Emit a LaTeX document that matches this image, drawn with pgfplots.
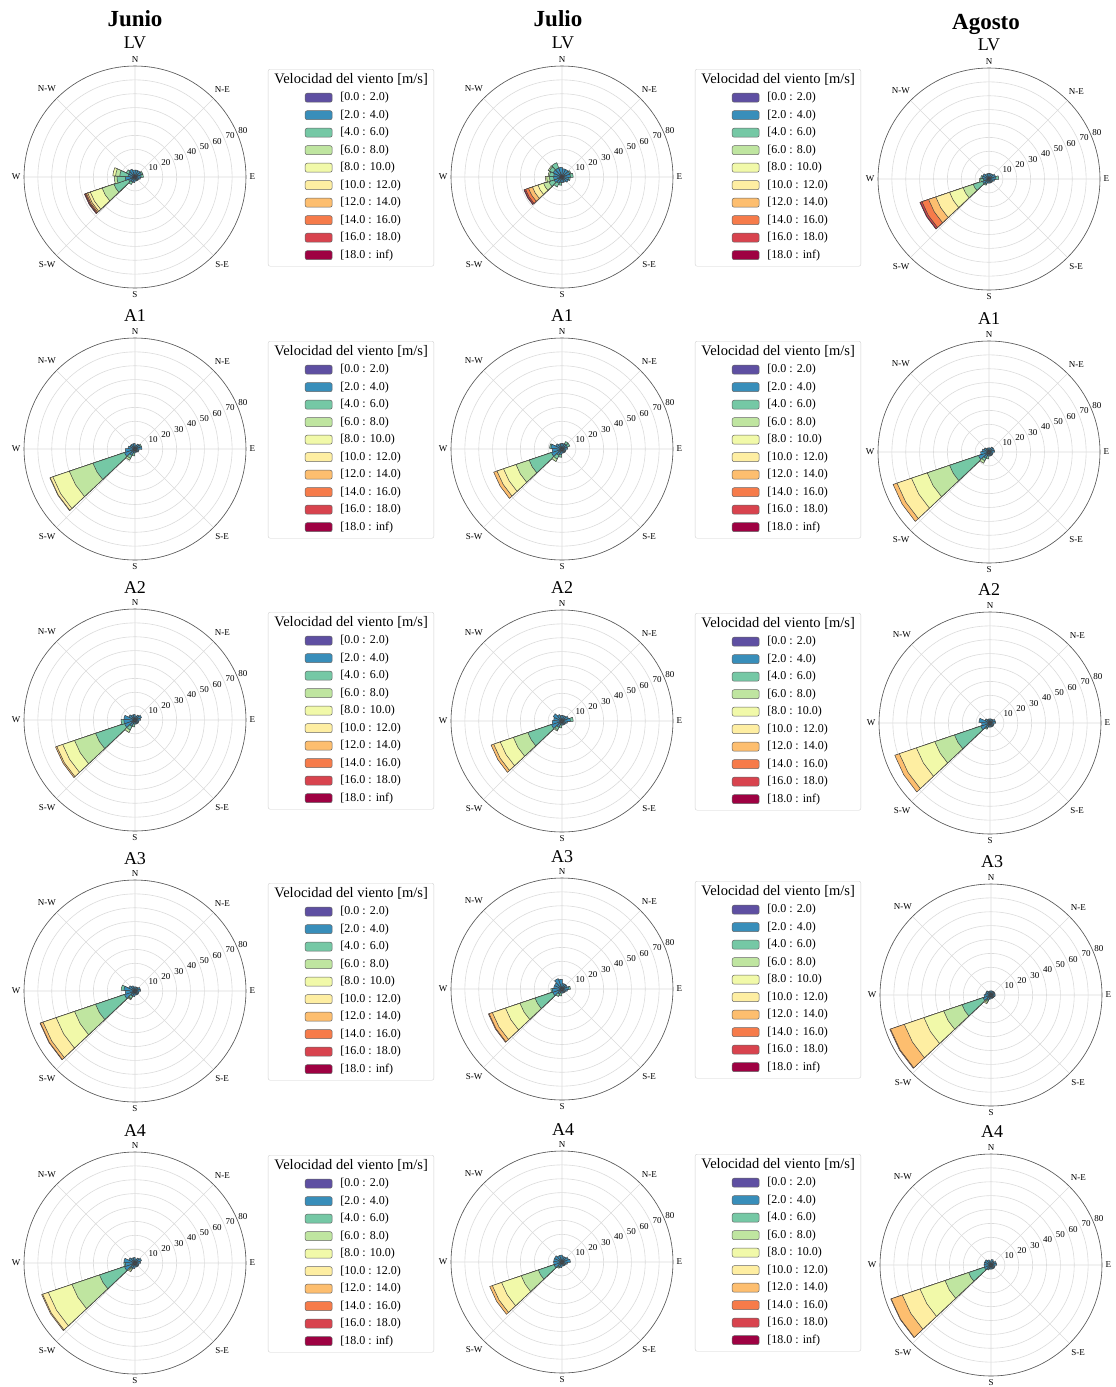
\documentclass[border=0pt]{standalone}
\usepackage{fontspec}
\setmainfont{Liberation Serif}
\usepackage{xfp}
\usepackage{pgfplots}
\pgfplotsset{compat=1.18}
\usepgfplotslibrary{polar}

\definecolor{wc1}{RGB}{94,79,162}
\definecolor{wc2}{RGB}{56,142,186}
\definecolor{wc3}{RGB}{117,200,165}
\definecolor{wc4}{RGB}{191,229,160}
\definecolor{wc5}{RGB}{241,249,169}
\definecolor{wc6}{RGB}{254,238,162}
\definecolor{wc7}{RGB}{253,190,111}
\definecolor{wc8}{RGB}{246,123,74}
\definecolor{wc9}{RGB}{216,67,78}
\definecolor{wc10}{RGB}{158,1,66}

\tikzset{rlab/.style={anchor=south west, inner sep=0.6pt, font=\fontsize{9}{9}\selectfont},
  barst/.style={draw=black!75, line width=0.5pt, line join=round}}

% #1 compass direction, #2 half width (deg), #3 bin/cumulative value, outermost first
\newcommand{\sect}[3]{%
  \foreach \bv/\rv in {#3}{%
    \edef\tmp{\noexpand\addplot[forget plot, barst, fill=wc\bv]
      coordinates {(\fpeval{90-(#1)},0) (\fpeval{90-(#1)+(#2)},\rv) (\fpeval{90-(#1)},\rv) (\fpeval{90-(#1)-(#2)},\rv) (\fpeval{90-(#1)},0)};}%
    \tmp}%
}
\newcommand{\major}[1]{\sect{239}{12.3}{#1}}
\newcommand{\minor}[2]{\sect{#1}{11}{#2}}

\newcommand{\rlabels}{\foreach \v in {10,20,...,80}{\edef\tmp{\noexpand\node[rlab] at (axis cs:22.5,\v) {\v};}\tmp}}

\newcommand{\legimg}[1]{\addlegendimage{legend image code/.code={\path[draw=none,fill=none] (0pt,-4.5pt) rectangle (58pt,4.5pt); \draw[fill=#1, draw=black!60, line width=0.5pt] (31pt,-4.5pt) rectangle (58pt,4.5pt);}}}
\newcommand{\roselegend}{%
  \addlegendimage{empty legend}\addlegendentry{\hspace*{-66pt}\fontsize{14.5}{14.5}\selectfont Velocidad del viento [m/s]}%
  \legimg{wc1}\addlegendentry{{[0.0 : 2.0)}}%
  \legimg{wc2}\addlegendentry{{[2.0 : 4.0)}}%
  \legimg{wc3}\addlegendentry{{[4.0 : 6.0)}}%
  \legimg{wc4}\addlegendentry{{[6.0 : 8.0)}}%
  \legimg{wc5}\addlegendentry{{[8.0 : 10.0)}}%
  \legimg{wc6}\addlegendentry{{[10.0 : 12.0)}}%
  \legimg{wc7}\addlegendentry{{[12.0 : 14.0)}}%
  \legimg{wc8}\addlegendentry{{[14.0 : 16.0)}}%
  \legimg{wc9}\addlegendentry{{[16.0 : 18.0)}}%
  \legimg{wc10}\addlegendentry{{[18.0 : inf)}}%
}

\pgfplotsset{
  rose/.style={
    width=222pt, height=222pt, scale only axis, anchor=center,
    xmin=0, xmax=360, ymin=0, ymax=80,
    xtick={0,45,...,315},
    xticklabels={E,N-E,N,N-W,W,S-W,S,S-E},
    ytick={10,20,...,80}, yticklabels={},
    grid=major, major grid style={draw=black!14, line width=0.6pt},
    axis line style={draw=black!65, line width=0.6pt},
    y axis line style={draw=none},
    major tick length=0pt,
    xticklabel style={font=\fontsize{9}{9}\selectfont, inner sep=3.5pt},
    clip=false,
  },
  roseleg/.style={
    legend cell align=left,
    legend style={at={(1.099,0.9865)}, anchor=north west, draw=black!18, rounded corners=2pt, fill=white,
      inner xsep=6pt, inner ysep=5pt, column sep=8pt, row sep=5.5pt,
      nodes={inner sep=0pt, text height=9pt, text depth=3pt},
      font=\fontsize{12}{12}\selectfont},
  },
}

\begin{document}
\begin{tikzpicture}[x=1pt,y=1pt]
\useasboundingbox (0,0) rectangle (1116,-1387);
\tikzset{mt/.style={font=\fontsize{23}{23}\selectfont\bfseries}, st/.style={font=\fontsize{18}{18}\selectfont}}
\node[mt] at (135,-19) {Junio};
\node[mt] at (558,-19) {Julio};
\node[mt] at (986,-24) {Agosto};
\node[st] at (135,-43) {LV};
\node[st] at (563,-43) {LV};
\node[st] at (989,-45) {LV};
\node[st] at (135,-316) {A1};
\node[st] at (562,-316) {A1};
\node[st] at (989,-319) {A1};
\node[st] at (135,-588) {A2};
\node[st] at (562,-588) {A2};
\node[st] at (989,-590) {A2};
\node[st] at (135,-859) {A3};
\node[st] at (562,-857) {A3};
\node[st] at (992,-862) {A3};
\node[st] at (135,-1131) {A4};
\node[st] at (563,-1130) {A4};
\node[st] at (992,-1132) {A4};

% ---------- Row 1: LV ----------
\begin{polaraxis}[rose, roseleg, at={(135pt,-177pt)}]
\major{10/38.5,9/38.2,8/37.7,7/37,6/36,5/34,4/25,3/16,2/5,1/1}
\minor{261.5}{4/15,3/13,2/7,1/1.5}
\minor{284}{5/16,4/14,3/11,2/5,1/1.5}
\minor{306.5}{3/7,2/5,1/1.5}
\minor{329}{2/6,1/1.5}
\minor{351.5}{2/5,1/1.5}
\minor{14}{2/5,1/1}
\minor{36.5}{2/5,1/1}
\minor{59}{3/6,2/5,1/1}
\minor{81.5}{3/6,2/4.5,1/1}
\minor{104}{2/4,1/1}
\minor{126.5}{2/3,1/1}
\minor{149}{2/3,1/1}
\minor{171.5}{2/3,1/1}
\minor{194}{2/4,1/1}
\minor{216.5}{3/6,2/4,1/1}
\rlabels
\roselegend
\end{polaraxis}

\begin{polaraxis}[rose, roseleg, at={(562pt,-177pt)}]
\major{10/29,9/28.6,8/27.7,7/25.5,6/22.5,5/18.3,4/14,3/10,2/6,1/1}
\minor{261.5}{5/12,4/11,3/9,2/6,1/1.5}
\minor{284}{4/10,3/9,2/6,1/1.5}
\minor{306.5}{4/11,3/10,2/7,1/1.5}
\minor{329}{3/11,2/7,1/1.5}
\minor{351.5}{2/7,1/1.5}
\minor{14}{2/6,1/1}
\minor{36.5}{2/6,1/1}
\minor{59}{3/7,2/6,1/1}
\minor{81.5}{3/8,2/6,1/1}
\minor{104}{3/6,2/5,1/1}
\minor{126.5}{2/5,1/1}
\minor{149}{2/4,1/1}
\minor{171.5}{2/4,1/1}
\minor{194}{3/6,2/4,1/1}
\minor{216.5}{3/8,2/5,1/1}
\rlabels
\roselegend
\end{polaraxis}

\begin{polaraxis}[rose, at={(989pt,-179pt)}]
\major{10/52.6,9/52.3,8/51,7/46,6/40.5,5/30,4/19.7,3/12,2/5,1/1}
\minor{261.5}{4/7,3/6,2/4,1/1}
\minor{284}{3/6,2/5,1/1}
\minor{306.5}{2/5,1/1}
\minor{329}{2/4,1/1}
\minor{351.5}{2/4,1/1}
\minor{14}{2/4,1/1}
\minor{36.5}{2/4,1/1}
\minor{59}{2/5,1/1}
\minor{81.5}{3/7,2/5,1/1}
\minor{104}{2/4,1/1}
\minor{126.5}{2/3}
\minor{149}{2/3}
\minor{171.5}{2/3}
\minor{194}{2/3}
\minor{216.5}{3/5,2/4,1/1}
\rlabels
\end{polaraxis}

% ---------- Row 2: A1 ----------
\begin{polaraxis}[rose, roseleg, at={(135pt,-449pt)}]
\major{7/64.8,6/64.5,5/62.5,4/50,3/32,2/8,1/1}
\minor{216.5}{4/9,3/7.5,2/5,1/1}
\minor{261.5}{2/7,1/1.5}
\minor{284}{2/5,1/1}
\minor{306.5}{2/4,1/1}
\minor{329}{2/4}
\minor{351.5}{2/4}
\minor{14}{2/3}
\minor{36.5}{2/4}
\minor{59}{3/5,2/4}
\minor{81.5}{2/5}
\minor{104}{2/3}
\minor{126.5}{2/3}
\minor{149}{2/2.5}
\minor{171.5}{2/2.5}
\minor{194}{3/5,2/3}
\rlabels
\roselegend
\end{polaraxis}

\begin{polaraxis}[rose, roseleg, at={(562pt,-449pt)}]
\major{7/52,6/49.5,5/44.5,4/35,3/25,2/8,1/1}
\minor{216.5}{4/10,3/8,2/5,1/1}
\minor{261.5}{2/7,1/1}
\minor{284}{3/9,2/8,1/1}
\minor{306.5}{2/5}
\minor{329}{2/4}
\minor{351.5}{2/4}
\minor{14}{2/4}
\minor{36.5}{3/6,2/4}
\minor{59}{3/6,2/4}
\minor{81.5}{2/4}
\minor{104}{2/3}
\minor{126.5}{2/3}
\minor{149}{2/3}
\minor{171.5}{2/3}
\minor{194}{3/6,2/4}
\rlabels
\roselegend
\end{polaraxis}

\begin{polaraxis}[rose, at={(989pt,-452pt)}]
\major{7/73,6/70,5/59,4/47,3/30,2/8,1/1}
\minor{216.5}{4/9,3/7,2/5,1/1}
\minor{261.5}{2/6,1/1}
\minor{284}{2/5}
\minor{306.5}{2/4}
\minor{329}{2/3}
\minor{351.5}{2/3}
\minor{14}{2/3}
\minor{36.5}{2/4}
\minor{59}{2/4}
\minor{81.5}{2/4}
\minor{104}{2/3}
\minor{126.5}{2/3}
\minor{149}{2/3}
\minor{171.5}{2/3}
\minor{194}{3/5,2/3}
\rlabels
\end{polaraxis}

% ---------- Row 3: A2 ----------
\begin{polaraxis}[rose, roseleg, at={(135pt,-720pt)}]
\major{7/60.5,6/59.5,5/55,4/46,3/30,2/8,1/1}
\minor{216.5}{4/10,3/8,2/5,1/1}
\minor{261.5}{3/10,2/8,1/1}
\minor{284}{2/8,1/1}
\minor{306.5}{2/5}
\minor{329}{2/4}
\minor{351.5}{2/4}
\minor{14}{2/3}
\minor{36.5}{2/4}
\minor{59}{2/5}
\minor{81.5}{2/4}
\minor{104}{2/3}
\minor{126.5}{2/3}
\minor{149}{2/3}
\minor{171.5}{2/3}
\minor{194}{3/5,2/3}
\rlabels
\roselegend
\end{polaraxis}

\begin{polaraxis}[rose, roseleg, at={(562pt,-721pt)}]
\major{7/54,6/52,5/47,4/37,3/26,2/8,1/1}
\minor{216.5}{4/8,3/7,2/5,1/1}
\minor{261.5}{2/7,1/1}
\minor{284}{2/6}
\minor{306.5}{2/7}
\minor{329}{2/5}
\minor{351.5}{2/4}
\minor{14}{2/4}
\minor{36.5}{2/4}
\minor{59}{2/5}
\minor{81.5}{3/8,2/6}
\minor{104}{2/4}
\minor{126.5}{2/3}
\minor{149}{2/3}
\minor{171.5}{2/3}
\minor{194}{3/5,2/3}
\rlabels
\roselegend
\end{polaraxis}

\begin{polaraxis}[rose, at={(990pt,-723pt)}]
\major{7/72.5,6/69,5/56,4/42,3/27,2/7,1/1}
\minor{216.5}{3/5,2/4,1/1}
\minor{261.5}{2/6,1/1}
\minor{284}{2/8,1/1}
\minor{306.5}{2/4}
\minor{329}{2/3}
\minor{351.5}{2/3}
\minor{14}{2/3}
\minor{36.5}{2/3}
\minor{59}{2/4}
\minor{81.5}{2/4}
\minor{104}{2/3}
\minor{126.5}{2/3}
\minor{149}{2/3}
\minor{171.5}{2/3}
\minor{194}{2/3}
\rlabels
\end{polaraxis}

% ---------- Row 4: A3 ----------
\begin{polaraxis}[rose, roseleg, at={(135pt,-991pt)}]
\major{8/72.3,7/72,6/70,5/60,4/46,3/30,2/8,1/1}
\minor{216.5}{5/7,4/6.5,3/6,2/4,1/1}
\minor{261.5}{2/7,1/1}
\minor{284}{3/10,2/8,1/1}
\minor{306.5}{2/5}
\minor{329}{2/4}
\minor{351.5}{2/3}
\minor{14}{2/3}
\minor{36.5}{2/3}
\minor{59}{2/4}
\minor{81.5}{2/4}
\minor{104}{2/3}
\minor{126.5}{2/3}
\minor{149}{2/3}
\minor{171.5}{2/3}
\minor{194}{2/4}
\rlabels
\roselegend
\end{polaraxis}

\begin{polaraxis}[rose, roseleg, at={(562pt,-989pt)}]
\major{8/56,7/55.5,6/53,5/43,4/32,3/20.5,2/7,1/1}
\minor{216.5}{3/6,2/4,1/1}
\minor{261.5}{3/8,2/7,1/1}
\minor{284}{2/6}
\minor{306.5}{2/6}
\minor{329}{2/8}
\minor{351.5}{2/7}
\minor{14}{2/4}
\minor{36.5}{2/4}
\minor{59}{2/4}
\minor{81.5}{3/6,2/5}
\minor{104}{2/4}
\minor{126.5}{2/3}
\minor{149}{2/3}
\minor{171.5}{2/3}
\minor{194}{3/5,2/3}
\rlabels
\roselegend
\end{polaraxis}

\begin{polaraxis}[rose, at={(991pt,-995pt)}]
\major{8/77,7/76.5,6/66,5/51,4/36,3/22,2/6,1/1}
\minor{216.5}{5/7,4/6,3/5,2/4,1/1}
\minor{261.5}{2/5}
\minor{284}{2/4}
\minor{306.5}{2/4}
\minor{329}{2/3}
\minor{351.5}{2/3}
\minor{14}{2/3}
\minor{36.5}{2/3}
\minor{59}{2/3}
\minor{81.5}{2/3}
\minor{104}{2/3}
\minor{126.5}{2/2.5}
\minor{149}{2/2.5}
\minor{171.5}{2/2.5}
\minor{194}{2/3}
\rlabels
\end{polaraxis}

% ---------- Row 5: A4 ----------
\begin{polaraxis}[rose, roseleg, at={(135pt,-1263pt)}]
\major{7/71,6/70.3,5/66,4/48,3/27,2/8,1/1}
\minor{216.5}{5/7,4/6,3/5,2/4,1/1}
\minor{261.5}{3/8,2/7,1/1}
\minor{284}{2/8,1/1}
\minor{306.5}{2/5}
\minor{329}{2/4}
\minor{351.5}{2/4}
\minor{14}{2/3}
\minor{36.5}{2/4}
\minor{59}{2/5}
\minor{81.5}{2/4}
\minor{104}{2/3}
\minor{126.5}{2/3}
\minor{149}{2/3}
\minor{171.5}{2/3}
\minor{194}{2/4}
\rlabels
\roselegend
\end{polaraxis}

\begin{polaraxis}[rose, roseleg, at={(562pt,-1262pt)}]
\major{7/55,6/53,5/46,4/31,3/18,2/6,1/1}
\minor{216.5}{3/5,2/4,1/1}
\minor{261.5}{2/6,1/1}
\minor{284}{2/6,1/1}
\minor{306.5}{2/6}
\minor{329}{2/5}
\minor{351.5}{2/5}
\minor{14}{2/4}
\minor{36.5}{2/4}
\minor{59}{2/5}
\minor{81.5}{2/6}
\minor{104}{2/4}
\minor{126.5}{2/3}
\minor{149}{2/3}
\minor{171.5}{2/3}
\minor{194}{2/4}
\rlabels
\roselegend
\end{polaraxis}

\begin{polaraxis}[rose, at={(991pt,-1265pt)}]
\major{8/76.3,7/76,6/67.5,5/54,4/35,3/17,2/5,1/1}
\minor{216.5}{3/4,2/3.5,1/1}
\minor{261.5}{2/5}
\minor{284}{2/5}
\minor{306.5}{2/5}
\minor{329}{2/4}
\minor{351.5}{2/3}
\minor{14}{2/4}
\minor{36.5}{2/3}
\minor{59}{2/4}
\minor{81.5}{2/4}
\minor{104}{2/3}
\minor{126.5}{2/3}
\minor{149}{2/3}
\minor{171.5}{2/3}
\minor{194}{2/3}
\rlabels
\end{polaraxis}
\end{tikzpicture}
\end{document}
